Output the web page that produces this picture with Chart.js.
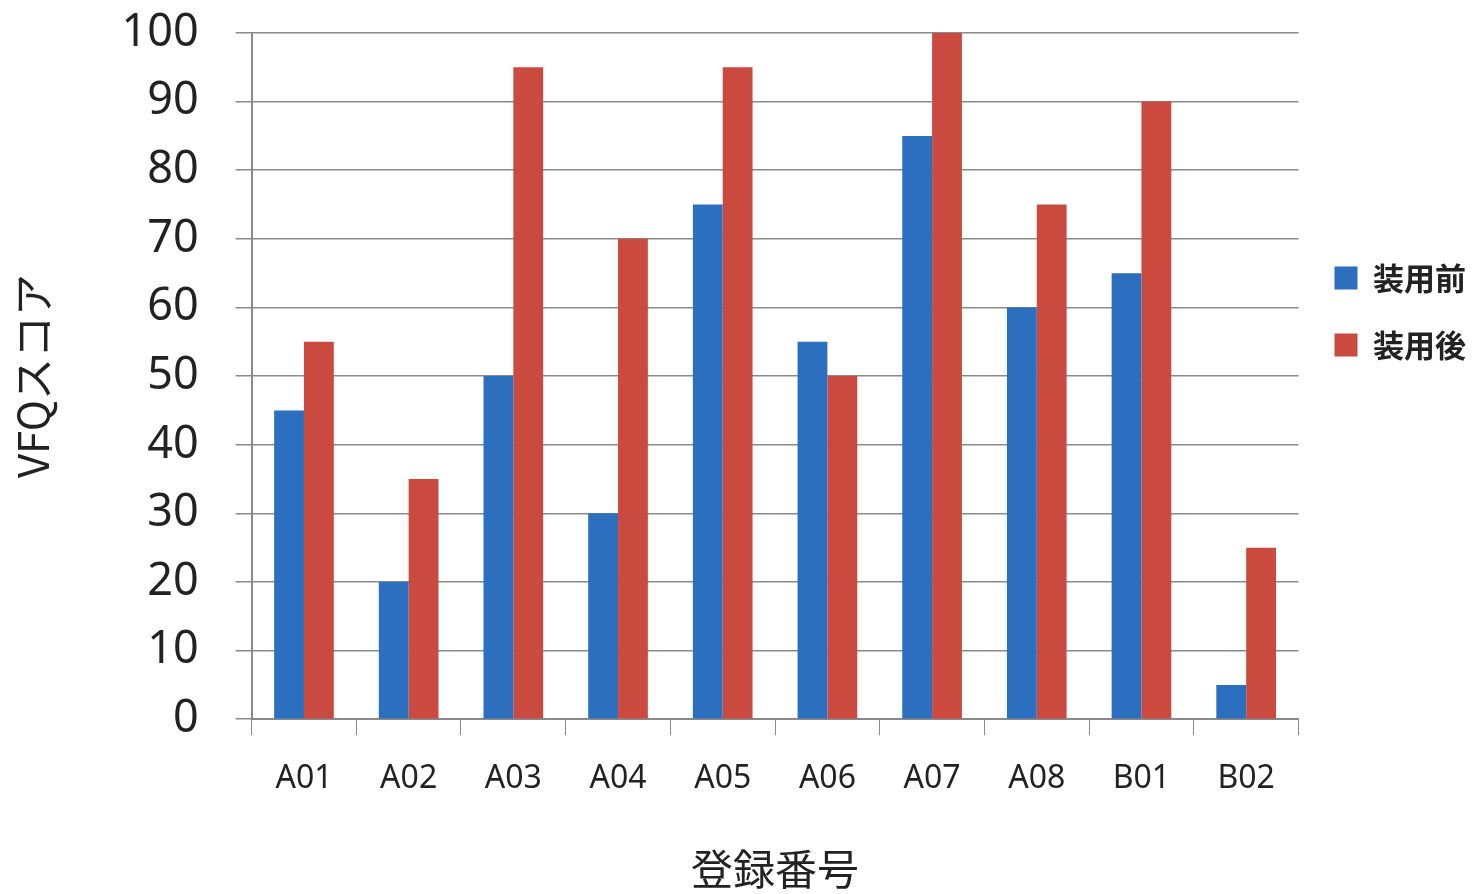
<!DOCTYPE html>
<html>
<head>
<meta charset="utf-8">
<script src="https://cdn.jsdelivr.net/npm/chart.js@4"></script>
<style>
  html, body { margin: 0; padding: 0; background: #fff; }
  #chartCanvas { display: block; }
</style>
</head>
<body>
<canvas id="chartCanvas" width="1481" height="894"></canvas>
<script>
// datos
const categorias = ['A01', 'A02', 'A03', 'A04', 'A05', 'A06', 'A07', 'A08', 'B01', 'B02'];
const antes = [45, 20, 50, 30, 75, 55, 85, 60, 65, 5];
const despues = [55, 35, 95, 70, 95, 50, 100, 75, 90, 25];
const nombreSeries = ['装用前', '装用後'];
const yTicks = [0, 10, 20, 30, 40, 50, 60, 70, 80, 90, 100];

const fuente = '"Noto Sans", "Noto Sans CJK JP", sans-serif';
const fuenteJP = '"Noto Sans CJK JP", sans-serif';
const gris = '#8a8a8a';

const ctx = document.getElementById('chartCanvas').getContext('2d');

const chart = new Chart(ctx, {
  type: 'bar',
  data: {
    labels: categorias,
    datasets: [
      {
        label: nombreSeries[0],
        data: antes,
        backgroundColor: '#2b6fbe',
        categoryPercentage: 0.57,
        barPercentage: 1.0,
      },
      {
        label: nombreSeries[1],
        data: despues,
        backgroundColor: '#cb4a40',
        categoryPercentage: 0.57,
        barPercentage: 1.0,
      },
    ],
  },
  options: {
    responsive: false,
    animation: false,
    layout: { padding: { left: 8, right: 5, top: 12, bottom: 0 } },
    plugins: {
      legend: {
        position: 'right',
        align: 'start',
        title: {
          display: true,
          text: ' ',
          padding: { top: 212, bottom: 0 },
          font: { size: 2 },
        },
        labels: {
          boxWidth: 23,
          boxHeight: 23,
          padding: 36,
          color: '#222',
          font: { family: fuenteJP, size: 31, weight: 'bold' },
        },
      },
      tooltip: { enabled: false },
    },
    scales: {
      x: {
        offset: true,
        grid: {
          offset: true,
          drawOnChartArea: false,
          color: gris,
          tickLength: 16,
        },
        border: { color: gris, width: 2 },
        ticks: {
          color: '#222',
          padding: 24,
          font: { family: fuente, size: 32 },
        },
        title: {
          display: true,
          text: '登録番号',
          color: '#222',
          padding: { top: 22, bottom: 0 },
          font: { family: fuenteJP, size: 42 },
        },
      },
      y: {
        min: 0,
        max: 100,
        afterBuildTicks: (axis) => { axis.ticks = yTicks.map(v => ({ value: v })); },
        // el padding de las etiquetas no debe empujar tanto el area hacia abajo
        afterFit: (axis) => { axis.paddingTop = Math.max(0, axis.paddingTop - axis.options.ticks.padding + 6); },
        grid: {
          color: gris,
          lineWidth: 1.5,
          tickLength: 16,
        },
        border: { color: gris, width: 2 },
        ticks: {
          color: '#222',
          padding: 37,
          font: { family: fuente, size: 45 },
        },
        title: {
          display: true,
          text: 'VFQスコア',
          color: '#222',
          padding: { top: 0, bottom: 26 },
          font: { family: fuenteJP, size: 42 },
        },
      },
    },
  },
});
</script>
</body>
</html>
